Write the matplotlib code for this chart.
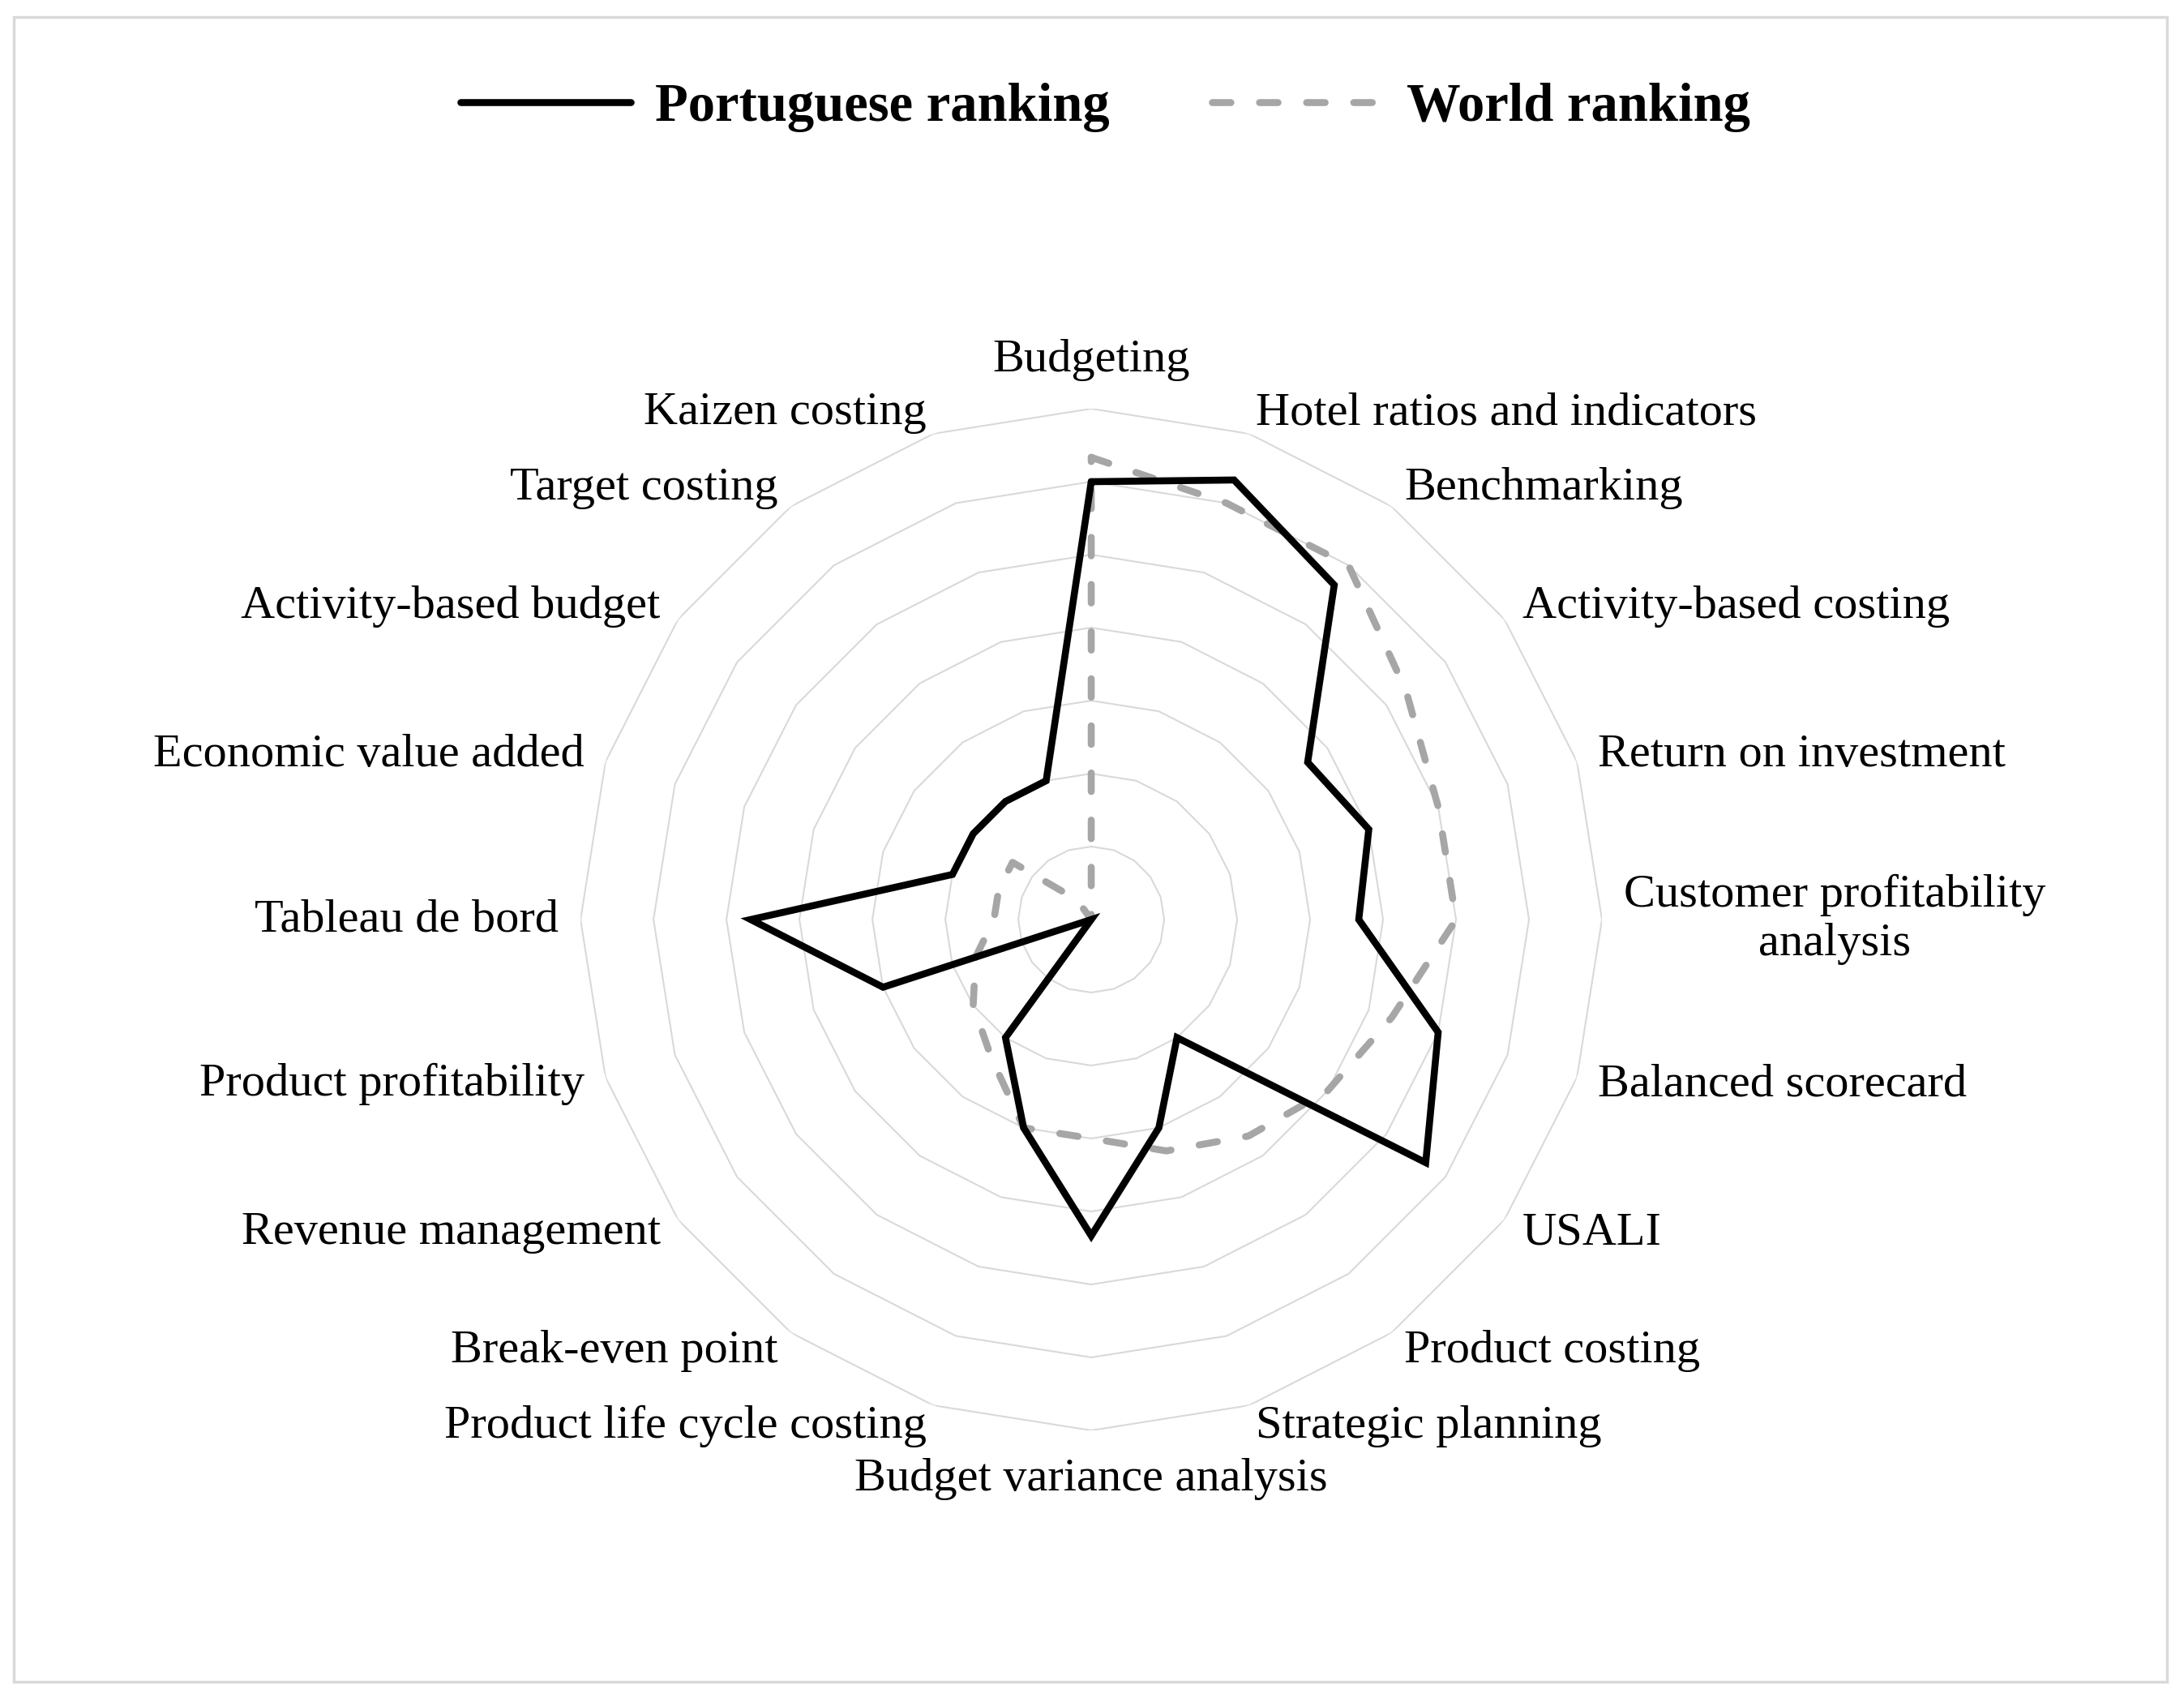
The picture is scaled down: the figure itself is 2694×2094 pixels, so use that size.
import numpy as np
import matplotlib
matplotlib.use("Agg")
import matplotlib.pyplot as plt
from matplotlib.patches import Rectangle

plt.rcParams['font.family'] = ['Liberation Serif', 'DejaVu Serif']

# categories, clockwise from the top
categories = [
    "Budgeting", "Hotel ratios and indicators", "Benchmarking",
    "Activity-based costing", "Return on investment",
    "Customer profitability\nanalysis", "Balanced scorecard", "USALI",
    "Product costing", "Strategic planning", "Budget variance analysis",
    "Product life cycle costing", "Break-even point", "Revenue management",
    "Product profitability", "Tableau de bord", "Economic value added",
    "Activity-based budget", "Target costing", "Kaizen costing",
]

portuguese = [18, 19, 17, 11, 12, 11, 15, 17, 6, 9, 13, 9, 6, 0, 9, 14, 6, 6, 6, 6]
world = [19, 18, 18, 16, 15, 15, 13, 12, 11, 10, 9, 9, 7, 6, 5, 4, 4, 4, 1, 0]

ring_levels = [3, 6, 9, 12, 15, 18, 21]

n = len(categories)
angles = np.linspace(0, 2 * np.pi, n, endpoint=False)
angles_closed = np.append(angles, angles[0])

fig = plt.figure(figsize=(26.94, 20.94), dpi=100)
ax = fig.add_axes([0.2658, 0.1576, 0.4677, 0.6017], projection='polar')
ax.set_theta_offset(np.pi / 2)
ax.set_theta_direction(-1)
ax.set_ylim(0, 21)
ax.set_xticks([])
ax.set_yticks([])
ax.grid(False)
ax.spines['polar'].set_visible(False)
ax.patch.set_alpha(0)

# polygon grid rings
for lvl in ring_levels:
    ax.plot(angles_closed, [lvl] * (n + 1), color='#d9d9d9', lw=1.5, zorder=1)

ax.plot(angles_closed, world + world[:1], color='#a6a6a6', lw=6.2,
        dashes=(2.65, 4.1), dash_capstyle='round', zorder=3, label='World ranking')
ax.plot(angles_closed, portuguese + portuguese[:1], color='black', lw=6.2,
        zorder=4, label='Portuguese ranking', solid_joinstyle='miter',
        solid_capstyle='round')

# category labels
for ang, name in zip(angles, categories):
    deg = np.degrees(ang)
    if np.isclose(deg, 0) or np.isclose(deg, 180):
        ax.text(ang, 23, name, ha='center', va='center', fontsize=42)
    elif deg < 180:
        ax.text(ang, 21.9, name, ha='left', va='center', fontsize=42,
                multialignment='center')
    else:
        ax.text(ang, 21.9, name, ha='right', va='center', fontsize=42)

# legend
handles, labels = ax.get_legend_handles_labels()
fig.legend(handles[::-1], labels[::-1], loc='center', bbox_to_anchor=(0.506, 0.9365),
           ncol=2, frameon=False, prop={'weight': 'bold', 'size': 48},
           handlelength=3.15, handletextpad=0.45, columnspacing=1.9)

# outer border
fig.patches.append(Rectangle((17 / 2694, 20 / 2094), 2656 / 2694, 2053 / 2094,
                             transform=fig.transFigure, fill=False,
                             ec='#d9d9d9', lw=2.5))

fig.savefig('out.png', dpi=100)
